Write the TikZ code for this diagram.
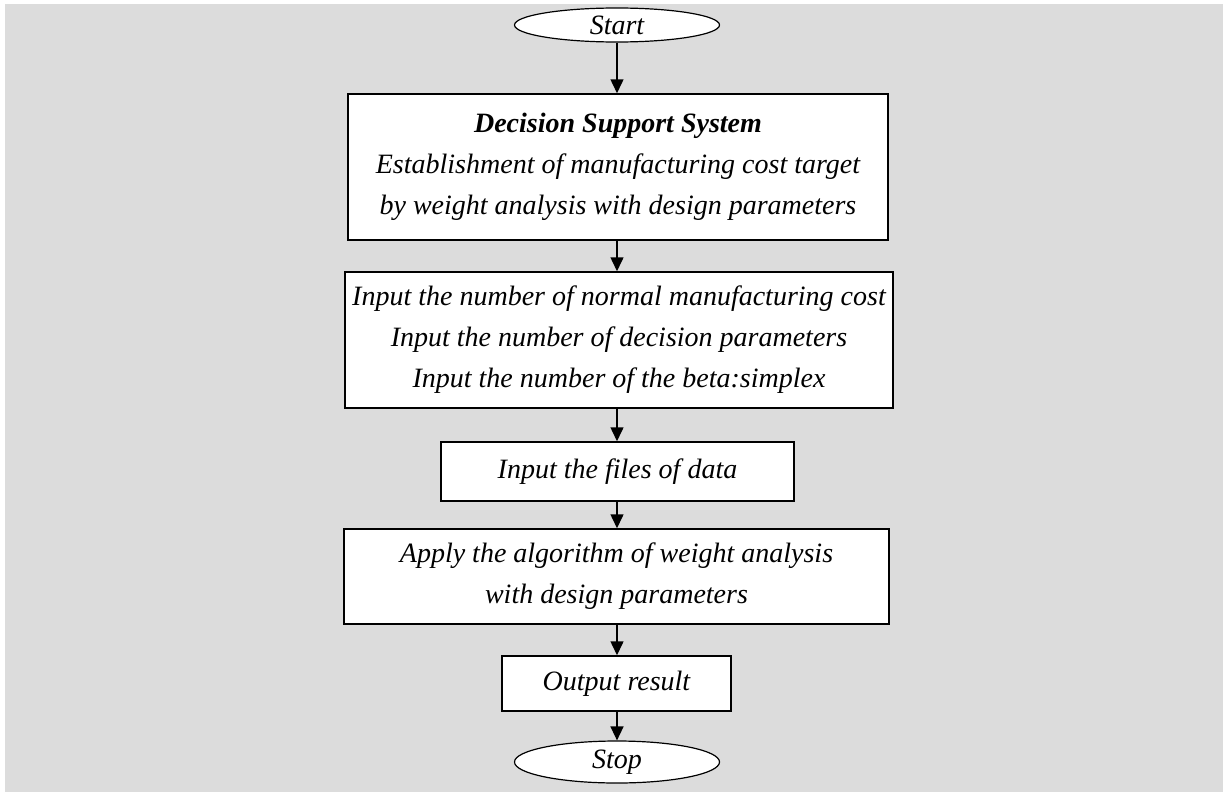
\documentclass[tikz,border=0pt]{standalone}
\usepackage{fontspec}
\setmainfont{Liberation Serif}
\usetikzlibrary{shapes.geometric,arrows.meta}
\definecolor{bgtex}{RGB}{220,220,220}
\tikzset{
  box/.style={draw=black, line width=1.5pt, fill=white, align=center, inner sep=0pt,
    font=\fontsize{28}{41}\selectfont\itshape},
  term/.style={draw=black, line width=1.2pt, fill=white, ellipse, inner sep=0pt,
    font=\fontsize{28}{34}\selectfont\itshape},
  flow/.style={line width=1.5pt, -{Triangle[width=13pt,length=14pt]}}
}
\begin{document}
\begin{tikzpicture}[x=1pt,y=-1pt]
\useasboundingbox (0,0) rectangle (1223,792);
\fill[bgtex] (5,4) rectangle (1223,792);
\node[term, minimum width=205pt, minimum height=34pt] (start) at (617,25) {Start};
\node[box, minimum width=540pt, minimum height=146pt] (dss) at (618,167)
  {\textbf{Decision Support System}\\Establishment of manufacturing cost target\\by weight analysis with design parameters};
\node[box, minimum width=548pt, minimum height=136pt] (inp) at (619,340)
  {Input the number of normal manufacturing cost\\Input the number of decision parameters\\Input the number of the beta:simplex};
\node[box, minimum width=353pt, minimum height=59pt] (files) at (617.5,471.5) {Input the files of data};
\node[box, minimum width=545pt, minimum height=95pt] (algo) at (616.5,576.5)
  {Apply the algorithm of weight analysis\\with design parameters};
\node[box, minimum width=229pt, minimum height=55pt] (out) at (616.5,683.5) {Output result};
\node[term, minimum width=205pt, minimum height=42pt] (stop) at (617,762) {Stop};
\draw[flow] (start.south) -- (start.south |- dss.north);
\draw[flow] (start.south |- dss.south) -- (start.south |- inp.north);
\draw[flow] (start.south |- inp.south) -- (start.south |- files.north);
\draw[flow] (start.south |- files.south) -- (start.south |- algo.north);
\draw[flow] (start.south |- algo.south) -- (start.south |- out.north);
\draw[flow] (start.south |- out.south) -- (stop.north);
\end{tikzpicture}
\end{document}
